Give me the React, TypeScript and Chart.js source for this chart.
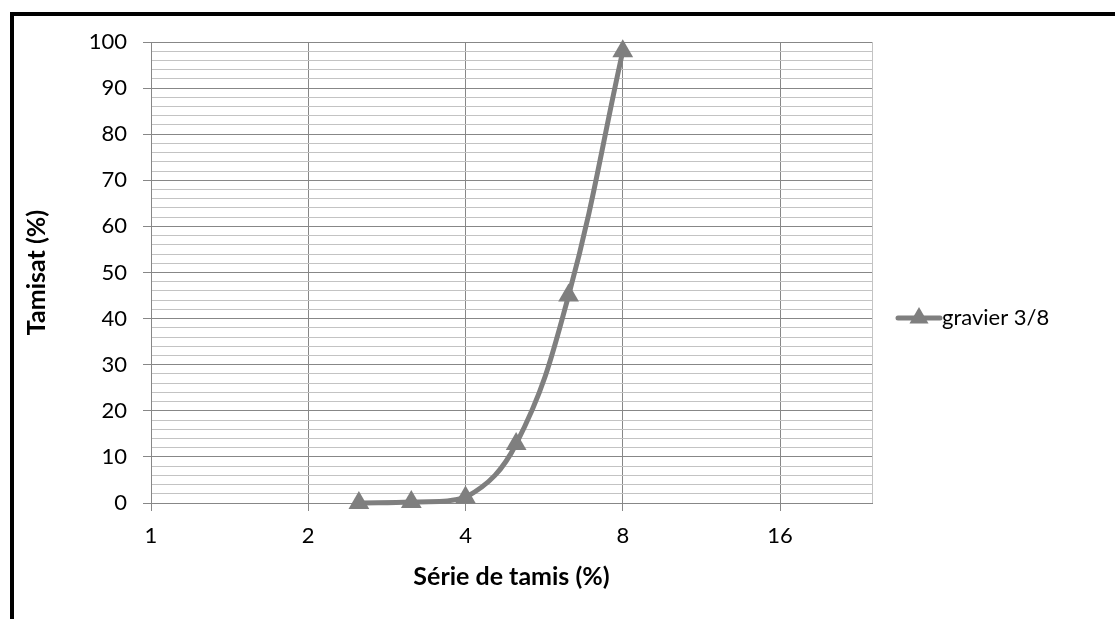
import React, { useEffect, useRef } from 'react';
import { Chart, registerables } from 'chart.js';

Chart.register(...registerables);

// ---- data ----
const sieveSizes = [2.5, 3.15, 4, 5, 6.3, 8];
const passingPct = [0, 0.2, 1.2, 12.8, 45, 98];
const seriesLabel = 'gravier 3/8';
const xTickValues = [1, 2, 4, 8, 16];
const xMin = 1;
const xMax = 24;
const yMin = 0;
const yMax = 100;
const yMinorStep = 2;
const yMajorStep = 10;
const xTitle = 'Série de tamis (%)';
const yTitle = 'Tamisat (%)';

// ---- styles ----
const FONT = 'Lato, "Open Sans", sans-serif';
const GRID_MAJOR = '#878787';
const GRID_MINOR = '#c3c3c3';
const SERIES_COLOR = '#7f7f7f';
const TICK_SIZE = 22;
const TITLE_SIZE = 25;
const W = 1115;
const H = 619;

const sideLegend = {
  id: 'sideLegend',
  afterDraw(chart: any) {
    const ctx = chart.ctx as CanvasRenderingContext2D;
    const ds = chart.data.datasets[0];
    const y = 318;
    const x0 = 898;
    const x1 = 940;
    ctx.save();
    ctx.strokeStyle = ds.borderColor;
    ctx.lineWidth = 5;
    ctx.lineCap = 'round';
    ctx.beginPath();
    ctx.moveTo(x0, y);
    ctx.lineTo(x1, y);
    ctx.stroke();
    const r = 11;
    const cx = (x0 + x1) / 2;
    ctx.fillStyle = ds.pointBackgroundColor;
    ctx.beginPath();
    ctx.moveTo(cx, y - r);
    ctx.lineTo(cx + r * 0.866, y + r / 2);
    ctx.lineTo(cx - r * 0.866, y + r / 2);
    ctx.closePath();
    ctx.fill();
    ctx.fillStyle = '#000';
    ctx.font = `${TICK_SIZE}px ${FONT}`;
    ctx.textBaseline = 'middle';
    ctx.textAlign = 'left';
    ctx.fillText(ds.label, x1 + 2, y);
    ctx.restore();
  },
};

export default function App() {
  const ref = useRef<HTMLCanvasElement>(null);

  useEffect(() => {
    if (!ref.current) return;
    const chart = new Chart(ref.current, {
      type: 'line',
      data: {
        datasets: [
          {
            label: seriesLabel,
            data: sieveSizes.map((x, i) => ({ x, y: passingPct[i] })),
            borderColor: SERIES_COLOR,
            backgroundColor: SERIES_COLOR,
            borderWidth: 5,
            pointStyle: 'triangle',
            pointRadius: 12,
            pointBackgroundColor: SERIES_COLOR,
            pointBorderColor: SERIES_COLOR,
            pointBorderWidth: 0,
            tension: 0.4,
            clip: false as any,
          } as any,
        ],
      },
      options: {
        responsive: false,
        animation: false,
        devicePixelRatio: 1,
        layout: { padding: { left: 0, top: 42, right: W - 872, bottom: 0 } },
        plugins: {
          legend: { display: false },
          tooltip: { enabled: false },
        },
        scales: {
          x: {
            type: 'logarithmic',
            min: xMin,
            max: xMax,
            afterBuildTicks(scale: any) {
              scale.ticks = [...xTickValues, xMax].map((v) => ({ value: v, major: false }));
            },
            afterFit(scale: any) {
              scale.height = H - 503;
            },
            ticks: {
              autoSkip: false,
              maxRotation: 0,
              padding: 12,
              color: '#000',
              font: { family: FONT, size: TICK_SIZE },
              callback: (v: any) => (xTickValues.includes(Number(v)) ? String(v) : ''),
            },
            grid: {
              color: (c: any) => (c.tick && c.tick.value === xMax ? GRID_MINOR : GRID_MAJOR),
              tickColor: (c: any) => (c.tick && c.tick.value === xMax ? 'rgba(0,0,0,0)' : GRID_MAJOR),
              tickLength: 8,
              lineWidth: 1,
            },
            border: { color: GRID_MAJOR },
            title: {
              display: true,
              text: xTitle,
              color: '#000',
              font: { family: FONT, size: TITLE_SIZE, weight: 'bold' },
              padding: { top: 0, bottom: 27 },
            },
          } as any,
          y: {
            type: 'linear',
            min: yMin,
            max: yMax,
            z: -1,
            afterFit(scale: any) {
              scale.width = 151;
            },
            ticks: {
              stepSize: yMinorStep,
              autoSkip: false,
              maxTicksLimit: 200,
              padding: 16,
              color: '#000',
              font: { family: FONT, size: TICK_SIZE },
              callback: (v: any) => (Number(v) % yMajorStep === 0 ? String(v) : ''),
            },
            grid: {
              color: (c: any) => (c.tick && c.tick.value % yMajorStep === 0 ? GRID_MAJOR : GRID_MINOR),
              tickColor: (c: any) => (c.tick && c.tick.value % yMajorStep === 0 ? GRID_MAJOR : 'rgba(0,0,0,0)'),
              tickLength: 8,
              lineWidth: 1,
            },
            border: { color: GRID_MAJOR },
            title: {
              display: true,
              text: yTitle,
              color: '#000',
              font: { family: FONT, size: TITLE_SIZE, weight: 'bold' },
              padding: { top: 22, bottom: 0 },
            },
          } as any,
        },
      },
      plugins: [sideLegend],
    });
    return () => chart.destroy();
  }, []);

  return (
    <div style={{ position: 'fixed', left: 0, top: 0, width: W, height: H, background: '#fff', overflow: 'hidden' }}>
      <div
        style={{
          position: 'absolute',
          left: 10,
          top: 12,
          width: W - 10,
          height: H - 12,
          borderLeft: '4px solid #000',
          borderTop: '4px solid #000',
          boxSizing: 'border-box',
        }}
      />
      <canvas
        ref={ref}
        width={W}
        height={H}
        style={{ position: 'absolute', left: 0, top: 0, width: W, height: H }}
      />
    </div>
  );
}
